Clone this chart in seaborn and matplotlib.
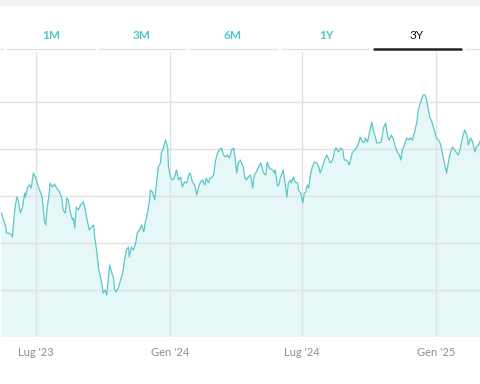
import numpy as np
import pandas as pd
import matplotlib
matplotlib.use("Agg")
import matplotlib.pyplot as plt
from matplotlib.lines import Line2D
from matplotlib.patches import Rectangle
import seaborn as sns

# giorni dal 14 mag 2023 e prezzo
days = [0, 3, 6, 7, 10, 14, 15, 18, 21, 23, 26, 29, 32, 33, 36, 39, 41, 44, 47, 50,
        54, 56, 59, 61, 63, 65, 67, 70, 73, 76, 80, 83, 85, 88, 90, 92, 95, 98, 99, 101,
        103, 106, 109, 113, 116, 118, 121, 124, 127, 128, 131, 134, 136, 139, 140, 143, 145, 147, 149, 152,
        154, 156, 158, 161, 164, 167, 169, 172, 175, 176, 179, 182, 185, 187, 190, 193, 196, 198, 201, 204,
        205, 208, 211, 213, 216, 219, 220, 223, 226, 229, 230, 233, 236, 238, 241, 244, 247, 249, 252, 255,
        258, 260, 263, 266, 269, 271, 274, 277, 280, 282, 285, 287, 289, 292, 295, 298, 300, 303, 306, 309,
        311, 314, 317, 320, 322, 324, 326, 329,
        330, 333, 335, 337, 340, 343, 346, 348, 351, 354, 357, 361, 364, 366, 369, 373, 376, 377, 380, 382,
        384, 388, 390, 393, 395, 398, 399, 402, 404, 408, 409, 412, 415, 417, 419, 421, 423, 426, 428, 431,
        434, 437, 439, 442, 445, 448, 450, 453, 456, 459, 461, 464, 467, 470, 472, 475, 478, 479, 483, 486,
        489, 492, 494, 497, 500, 501, 504, 507, 510, 512, 514, 517, 519, 523, 526, 529, 532, 534, 537, 540,
        543, 545, 548, 550, 552, 555, 558, 561, 563, 566, 569, 572, 574, 576, 579, 581, 583, 585, 588, 590,
        592, 596, 599, 602, 605, 607, 610, 613, 616, 618, 621, 624, 627, 629, 632, 635, 638, 641, 643, 646,
        649, 652, 654, 657, 660, 661]
price = [12.4, 11.7, 11.0, 10.4, 10.4, 10.2, 10.0, 12.5, 14.0, 13.7, 12.4, 13.0, 14.4, 14.0, 15.0, 15.2, 14.9, 16.4, 15.9, 15.2,
         14.4, 14.0, 11.7, 11.2, 13.0, 13.9, 15.4, 15.0, 15.3, 14.9, 14.5, 13.9, 12.7, 12.4, 13.9, 13.7, 12.4, 11.7, 11.9, 10.9,
         13.0, 12.7, 13.2, 13.5, 12.5, 11.7, 10.7, 11.0, 11.2, 10.2, 8.7, 6.7, 6.2, 5.0, 4.4, 4.7, 4.2, 5.7, 7.2, 6.4,
         6.0, 4.7, 4.5, 4.9, 5.7, 6.4, 7.4, 8.7, 9.0, 8.0, 9.0, 8.7, 9.5, 10.4, 10.7, 11.2, 10.5, 11.4, 12.4, 13.7,
         14.7, 14.5, 13.7, 15.0, 17.0, 17.4, 18.4, 18.9, 19.7, 18.9, 17.0, 15.9, 15.7, 15.9, 16.7, 15.7, 16.0, 15.0, 15.5, 15.4,
         16.2, 16.4, 15.5, 15.2, 14.2, 14.9, 15.5, 15.7, 15.2, 15.9, 15.4, 15.9, 15.9, 16.2, 17.7, 18.5, 18.7, 18.9, 18.2, 18.0,
         18.2, 17.9, 18.7, 18.9, 17.7, 16.4, 17.4, 17.7,
         17.5, 17.0, 16.0, 15.7, 16.0, 16.2, 14.9, 16.2, 16.5, 17.0, 17.4, 16.4, 16.2, 17.5, 16.9, 16.7, 16.4, 16.7, 15.1, 15.2,
         15.9, 16.7, 15.7, 14.0, 15.4, 15.7, 15.4, 16.0, 15.5, 15.4, 14.7, 14.4, 13.4, 14.4, 14.5, 15.2, 14.9, 16.4, 17.0, 17.5,
         17.4, 17.0, 16.4, 17.0, 17.7, 18.2, 17.9, 17.4, 17.7, 18.7, 18.9, 18.5, 18.9, 18.7, 17.7, 17.7, 17.4, 17.2, 18.4, 18.7,
         18.9, 19.4, 20.0, 19.5, 19.5, 19.9, 19.5, 20.5, 21.5, 20.7, 20.2, 19.4, 19.4, 19.5, 20.9, 21.4, 20.0, 19.7, 20.2, 19.7,
         18.9, 18.5, 18.2, 17.7, 18.7, 19.2, 19.9, 19.7, 19.9, 19.7, 20.5, 21.5, 22.7, 23.2, 23.9, 24.2, 24.2, 23.9, 22.7, 21.9,
         21.7, 20.7, 19.9, 19.7, 19.2, 18.4, 17.4, 16.4, 17.7, 18.4, 19.0, 18.7, 18.4, 18.2, 18.9, 20.0, 20.7, 20.2, 19.2, 19.9,
         19.5, 18.5, 19.0, 19.2, 19.7, 19.7]

tabs = ["1M", "3M", "6M", "1Y", "3Y"]
tick_dates = ["2023-07-01", "2024-01-01", "2024-07-01", "2025-01-01"]
tick_labels = ["Lug '23", "Gen '24", "Lug '24", "Gen '25"]
grid_levels = [4.7, 9.4, 14.1, 18.8, 23.5]

start = pd.Timestamp("2023-05-14")
df = pd.DataFrame({"date": start + pd.to_timedelta(days, unit="D"), "price": price})

sns.set_style("white")
plt.rcParams["font.family"] = ["Lato", "DejaVu Sans"]

teal = "#5bc7c8"
fig = plt.figure(figsize=(4.8, 3.84), dpi=100)
ax = fig.add_axes([0, 47 / 384, 1, 285 / 384])

ax.fill_between(df["date"], df["price"], 0, color="#e6f7f7", zorder=1, linewidth=0)
sns.lineplot(data=df, x="date", y="price", ax=ax, color=teal, linewidth=0.9, zorder=3)

ax.set_xlim(start - pd.Timedelta(days=2), start + pd.Timedelta(days=659))
ax.set_ylim(0, 28.5)
ax.set_yticks(grid_levels)
ax.set_xticks(pd.to_datetime(tick_dates))
ax.set_xticklabels(tick_labels, color="#8a8f94", fontsize=8)
ax.tick_params(axis="y", left=False, labelleft=False)
ax.tick_params(axis="x", bottom=False, pad=3.5)
ax.grid(True, color="#e0e2e4", linewidth=1.0, zorder=2)
ax.set_axisbelow(False)
for s in ax.spines.values():
    s.set_visible(False)
ax.set_xlabel("")
ax.set_ylabel("")

# barra grigia in alto
fig.patches.append(Rectangle((0, 1 - 5 / 384), 1, 5 / 384, transform=fig.transFigure,
                             color="#f3f3f3", zorder=0))

# schede periodo
tab_x = [51, 142, 233, 326, 416]
seg = [(7, 95), (99, 186), (190, 278), (282, 370), (374, 461)]
for name, cx, (a, b) in zip(tabs, tab_x, seg):
    active = name == "3Y"
    fig.text(cx / 480, 1 - 35.5 / 384, name, ha="center", va="center", fontsize=8.5,
             color="#111111" if active else "#4fc4c6", fontweight="normal" if active else "bold")
    fig.add_artist(Line2D([a / 480, b / 480], [1 - 49 / 384] * 2, transform=fig.transFigure,
                          color="#222222" if active else "#dde3e8",
                          linewidth=1.8 if active else 1.0))
fig.add_artist(Line2D([0, 3 / 480], [1 - 49 / 384] * 2, transform=fig.transFigure,
                      color="#dde3e8", linewidth=1.0))
fig.add_artist(Line2D([465 / 480, 1], [1 - 49 / 384] * 2, transform=fig.transFigure,
                      color="#dde3e8", linewidth=1.0))

fig.savefig("out.png", dpi=100)
